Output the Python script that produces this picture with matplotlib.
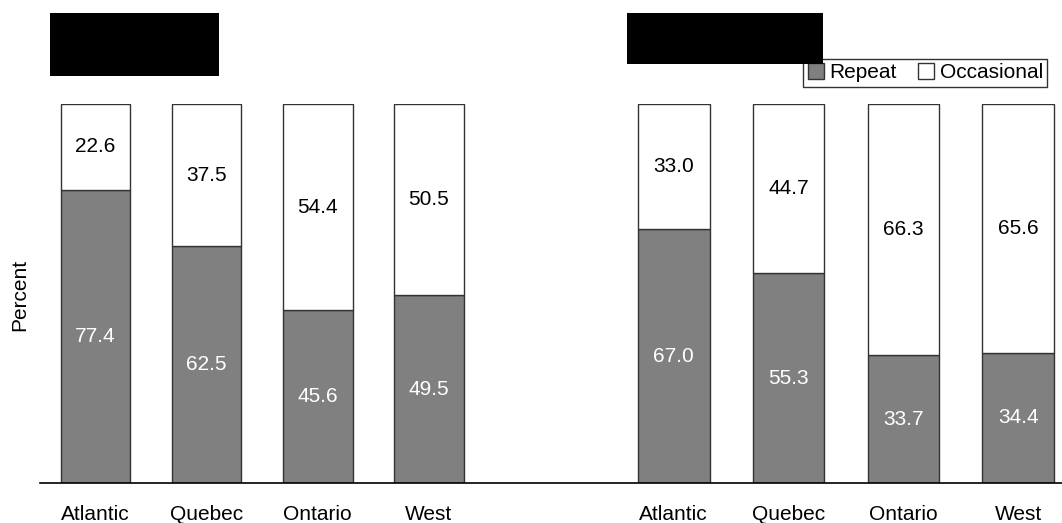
import matplotlib
matplotlib.use("Agg")
import matplotlib.pyplot as plt
from matplotlib.patches import Rectangle, Patch
from matplotlib.lines import Line2D

plt.rcParams['font.family'] = ['Liberation Sans', 'DejaVu Sans']

regions = ["Atlantic", "Quebec", "Ontario", "West"]
left_repeat = [77.4, 62.5, 45.6, 49.5]
left_occasional = [22.6, 37.5, 54.4, 50.5]
right_repeat = [67.0, 55.3, 33.7, 34.4]
right_occasional = [33.0, 44.7, 66.3, 65.6]

W, H = 1062, 523
fig = plt.figure(figsize=(W / 100, H / 100), dpi=100)

gray = "#808080"
edge = "#333333"
fs = 15


def px(x0, y0, x1, y1):
    return [x0 / W, 1 - y1 / H, (x1 - x0) / W, (y1 - y0) / H]


ax1 = fig.add_axes(px(40, 104, 540, 483))
ax2 = fig.add_axes(px(540, 104, 1062, 483))


def draw(ax, rep, occ, xlim):
    x = list(range(len(regions)))
    ax.bar(x, rep, width=0.625, color=gray, edgecolor=edge, linewidth=1)
    ax.bar(x, occ, bottom=rep, width=0.625, color="white", edgecolor=edge, linewidth=1)
    for i in x:
        ax.text(i, rep[i] / 2, f"{rep[i]:.1f}", ha="center", va="center",
                color="white", fontsize=fs)
        ax.text(i, rep[i] + occ[i] / 2, f"{occ[i]:.1f}", ha="center", va="center",
                color="black", fontsize=fs)
    ax.set_xlim(*xlim)
    ax.set_ylim(0, 100)
    ax.set_xticks(x)
    ax.set_xticklabels(regions, fontsize=fs)
    ax.tick_params(axis="x", length=0, pad=16)
    ax.set_yticks([])
    for s in ["top", "left", "right", "bottom"]:
        ax.spines[s].set_visible(False)
    ax.patch.set_alpha(0)


draw(ax1, left_repeat, left_occasional, (-0.5, 4.0))
draw(ax2, right_repeat, right_occasional, (-1.164, 3.38))

# continuous baseline across both panels
fig.lines.append(Line2D([40 / W, 1.0], [1 - 483 / H, 1 - 483 / H],
                        transform=fig.transFigure, color="black", linewidth=1.2))

fig.text(20 / W, 1 - 295 / H, "Percent", rotation=90, ha="center", va="center",
         fontsize=fs)

handles = [Patch(facecolor=gray, edgecolor=edge, linewidth=1, label="Repeat"),
           Patch(facecolor="white", edgecolor=edge, linewidth=1, label="Occasional")]
leg = fig.legend(handles=handles, loc="upper right",
                 bbox_to_anchor=(1047 / W, 1 - 59 / H), ncol=2, fontsize=fs,
                 frameon=True, fancybox=False, borderaxespad=0,
                 handlelength=0.8, handleheight=0.8, handletextpad=0.25,
                 columnspacing=1.0, borderpad=0.2)
leg.get_frame().set_edgecolor("black")
leg.get_frame().set_linewidth(1)

# redacted title blocks
fig.patches.append(Rectangle((50 / W, 1 - 76 / H), 169 / W, 63 / H,
                             transform=fig.transFigure, facecolor="black",
                             edgecolor="none", zorder=10))
fig.patches.append(Rectangle((627 / W, 1 - 64 / H), 196 / W, 51 / H,
                             transform=fig.transFigure, facecolor="black",
                             edgecolor="none", zorder=10))

fig.savefig("out.png", dpi=100)
